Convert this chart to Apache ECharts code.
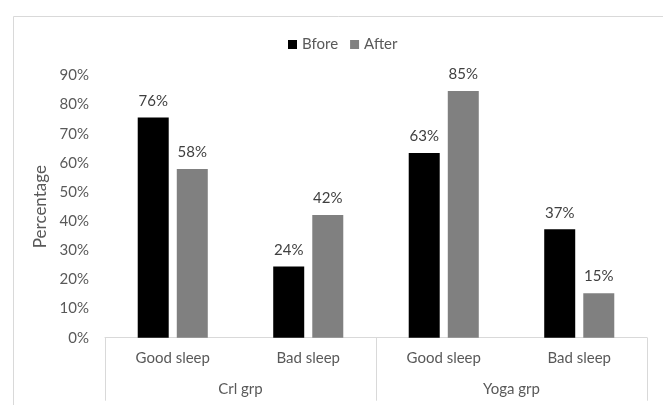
<!DOCTYPE html>
<html>
<head>
<meta charset="utf-8">
<script src="https://cdn.jsdelivr.net/npm/echarts@6/dist/echarts.min.js"></script>
<style>
  html, body { margin: 0; padding: 0; background: #fff; }
  #chart { width: 663px; height: 405px; }
</style>
</head>
<body>
<div id="chart"></div>
<script>
var sleepCats = ['Good sleep', 'Bad sleep', 'Good sleep', 'Bad sleep'];
var groupCats = ['Crl grp', 'Yoga grp'];
// before/after per category, in the order of sleepCats
var beforeVals = [75.6, 24.4, 63.4, 37.2];
var afterVals = [57.9, 42.1, 84.7, 15.3];
var yTicks = [0, 10, 20, 30, 40, 50, 60, 70, 80, 90];

var myChart = echarts.init(document.getElementById('chart'));
var font = 'Lato';
var labelStyle = {
  show: true,
  position: 'top',
  distance: 9,
  color: '#404040',
  fontFamily: font,
  fontSize: 15,
  formatter: function (p) { return Math.round(p.value) + '%'; }
};

var option = {
  animation: false,
  textStyle: { fontFamily: font },
  graphic: [{
    type: 'rect',
    left: 11, top: 14,
    shape: { width: 700, height: 460 },
    style: { fill: 'none', stroke: '#d9d9d9', lineWidth: 1 },
    silent: true
  }],
  legend: {
    top: 32,
    left: 283,
    itemWidth: 9,
    itemHeight: 9,
    itemGap: 12,
    icon: 'rect',
    textStyle: { color: '#595959', fontSize: 15, fontFamily: font },
    data: ['Bfore', 'After']
  },
  grid: { left: 105, right: 16, top: 75.5, bottom: 67.3 },
  xAxis: [{
    type: 'category',
    data: sleepCats,
    axisLine: { lineStyle: { color: '#d9d9d9', width: 1 } },
    axisTick: { show: false },
    axisLabel: { color: '#595959', fontSize: 15, margin: 13, fontFamily: font }
  }, {
    type: 'category',
    data: groupCats,
    position: 'bottom',
    axisLine: { show: false },
    axisTick: { show: true, length: 63, lineStyle: { color: '#d9d9d9' } },
    axisLabel: { color: '#595959', fontSize: 15, margin: 44, fontFamily: font }
  }],
  yAxis: {
    type: 'value',
    min: yTicks[0],
    max: yTicks[yTicks.length - 1],
    interval: 10,
    name: 'Percentage',
    nameLocation: 'middle',
    nameRotate: 90,
    nameGap: 52,
    nameTextStyle: { color: '#595959', fontSize: 17, fontFamily: font },
    axisLine: { show: false },
    axisTick: { show: false },
    splitLine: { show: false },
    axisLabel: { color: '#595959', fontSize: 15, margin: 16, fontFamily: font, formatter: '{value}%' }
  },
  series: [{
    name: 'Bfore',
    type: 'bar',
    xAxisIndex: 0,
    data: beforeVals,
    barWidth: 31,
    barGap: '26%',
    itemStyle: { color: '#000000' },
    label: labelStyle
  }, {
    name: 'After',
    type: 'bar',
    xAxisIndex: 0,
    data: afterVals,
    barWidth: 31,
    barGap: '26%',
    itemStyle: { color: '#808080' },
    label: labelStyle
  }]
};
myChart.setOption(option);
</script>
</body>
</html>
